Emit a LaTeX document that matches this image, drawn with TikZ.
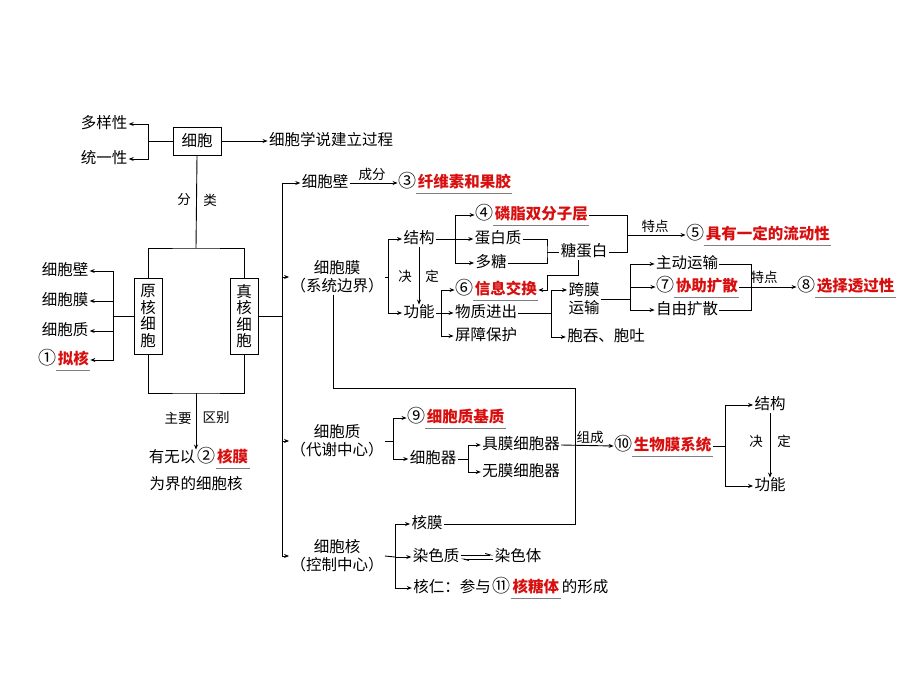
\documentclass[tikz,border=0pt]{standalone}
\usepackage{fontspec}
\newfontfamily\cjk{Noto Sans CJK SC}
\usetikzlibrary{arrows.meta,positioning}
\definecolor{keyred}{RGB}{215,15,15}

\begin{document}
\begin{tikzpicture}[x=1pt,y=-1pt,>={Stealth[length=5pt,width=4pt]},line width=0.9pt,
    every node/.style={font=\cjk\fontsize{15.5}{16}\selectfont,inner sep=1pt},
    text node/.style={text height=11.5pt,text depth=2.5pt},
    num node/.style={text node,font=\cjk\fontsize{18}{18}\selectfont,inner sep=0pt},
    two node/.style={align=center,font=\cjk\fontsize{15.5}{18}\selectfont},
    box node/.style={draw,minimum width=48pt,minimum height=28pt},
    tall node/.style={draw,align=center,minimum width=28pt,minimum height=76pt,font=\cjk\fontsize{15.5}{16.5}\selectfont},
    red node/.style={text node,text=keyred,font=\cjk\bfseries\fontsize{15.5}{16}\selectfont},
    small node/.style={font=\cjk\fontsize{13.5}{14}\selectfont}]
\useasboundingbox (0,0) rectangle (920,690);

% cell and its two properties
\node[box node] (cell) at (197,141) {细胞};
\node[text node] (diverse) at (104,124) {多样性};
\node[text node] (unity) at (104,159) {统一性};
\node[text node] (theory) at (331,141) {细胞学说建立过程};
\node[small node] (cls1) at (184,200) {分};
\node[small node] (cls2) at (210,200) {类};
\node[tall node] (pro) at (148,316) {原\\核\\细\\胞};
\node[tall node] (euk) at (244,316) {真\\核\\细\\胞};

% prokaryotic cell
\node[text node] (pwall) at (65,271) {细胞壁};
\node[text node] (pmem) at (65,301) {细胞膜};
\node[text node] (pcyto) at (65,331) {细胞质};
\node[num node] (c1) at (47,360) {①};
\node[red node,right=0pt of c1] (a1) {拟核};

% main difference
\node[small node] (main1) at (178,418) {主要};
\node[small node] (main2) at (216,418) {区别};
\node[text node] (k1) at (172,458) {有无以};
\node[num node,right=0pt of k1] (c2) {②};
\node[red node,right=0pt of c2] (a2) {核膜};
\node[text node] (k2) at (196,485) {为界的细胞核};

% eukaryotic cell: wall and membrane
\node[text node] (ewall) at (325,183) {细胞壁};
\node[small node] (ing) at (372,174) {成分};
\node[num node] (c3) at (407,183) {③};
\node[red node,right=0pt of c3] (a3) {纤维素和果胶};
\node[two node] (emem) at (337,277) {细胞膜\\（系统边界）};
\node[text node] (struct) at (419,239) {结构};
\node[text node] (func) at (419,313) {功能};
\node[small node] (dec1) at (405,276) {决};
\node[small node] (dec2) at (432,276) {定};
\node[num node] (c4) at (484,215) {④};
\node[red node,right=0pt of c4] (a4) {磷脂双分子层};
\node[text node] (prot) at (498,239) {蛋白质};
\node[text node] (sugar) at (491,263) {多糖};
\node[text node] (glyco) at (584,252) {糖蛋白};
\node[small node] (feat1) at (655,226) {特点};
\node[num node] (c5) at (695,235) {⑤};
\node[red node,right=0pt of c5] (a5) {具有一定的流动性};
\node[num node] (c6) at (464,290) {⑥};
\node[red node,right=0pt of c6] (a6) {信息交换};
\node[text node] (inout) at (486,313) {物质进出};
\node[text node] (barrier) at (486,336) {屏障保护};
\node[two node] (trans) at (584,299) {跨膜\\运输};
\node[text node] (endo) at (606,337) {胞吞、胞吐};
\node[text node] (active) at (687,264) {主动运输};
\node[num node] (c7) at (665,287) {⑦};
\node[red node,right=0pt of c7] (a7) {协助扩散};
\node[text node] (free) at (687,310) {自由扩散};
\node[small node] (feat2) at (764,277) {特点};
\node[num node] (c8) at (806,287) {⑧};
\node[red node,right=0pt of c8] (a8) {选择透过性};

% cytoplasm
\node[two node] (ecyto) at (337,441) {细胞质\\（代谢中心）};
\node[num node] (c9) at (416,418) {⑨};
\node[red node,right=0pt of c9] (a9) {细胞质基质};
\node[text node] (organ) at (433,459) {细胞器};
\node[text node] (withm) at (521,445) {具膜细胞器};
\node[text node] (nonm) at (521,472) {无膜细胞器};
\node[small node] (form) at (590,437) {组成};
\node[num node] (c10) at (623,446) {⑩};
\node[red node,right=0pt of c10] (a10) {生物膜系统};
\node[text node] (struct2) at (770,405) {结构};
\node[text node] (func2) at (770,486) {功能};
\node[small node] (dec3) at (756,441) {决};
\node[small node] (dec4) at (784,441) {定};

% nucleus
\node[two node] (enuc) at (337,556) {细胞核\\（控制中心）};
\node[text node] (nmem) at (427,524) {核膜};
\node[text node] (chrom) at (436,557) {染色质};
\node[text node] (chromo) at (518,557) {染色体};
\node[text node] (nucleo) at (452,588) {核仁：参与};
\node[num node,right=0pt of nucleo] (c11) {⑪};
\node[red node,right=0pt of c11] (a11) {核糖体};
\node[text node,right=0pt of a11] (rest) {的形成};

% junctions
\coordinate (jcell) at (148,141);
\coordinate (split) at (196,248);
\coordinate (jpro) at (113,316);
\coordinate (diff) at (196,393);
\coordinate (jeuk) at (282,316);
\coordinate (jmem) at (388,277);
\coordinate (jstruct) at (455,239);
\coordinate (jglyco) at (547,252);
\coordinate (jfluid) at (627,235);
\coordinate (jsignal) at (547,275);
\coordinate (jfunc) at (441,313);
\coordinate (jinout) at (551,313);
\coordinate (jtrans) at (630,299);
\coordinate (jsel) at (751,287);
\coordinate (jloop) at (575,388);
\coordinate (jcyto) at (393,441);
\coordinate (jorgan) at (468,459);
\coordinate (jbio) at (725,446);
\coordinate (jnuc) at (395,557);

\draw (cell.west) -- (jcell);
\draw[->] (jcell) |- (diverse.east);
\draw[->] (jcell) |- (unity.east);
\draw[->] (cell.east) -- (theory.west);
\draw (cell.south) -- (split);
\draw (pro.north) |- (split) -| (euk.north);

\draw (pro.west) -- (jpro);
\draw[->] (jpro) |- (pwall.east);
\draw[->] (jpro) |- (pmem.east);
\draw[->] (jpro) |- (pcyto.east);
\draw[->] (jpro) |- (a1.east);
\draw (pro.south) |- (diff) -| (euk.south);
\draw[->] (diff) -- (diff |- k1.north);

\draw (euk.east) -- (jeuk);
\draw[->] (jeuk) |- (ewall.west);
\draw[->] (jeuk) |- (emem.west);
\draw[->] (jeuk) |- (ecyto.west);
\draw[->] (jeuk) |- (enuc.west);
\draw[->] (ewall.east) -- (c3.west);

\draw (emem.east) -- (jmem);
\draw[->] (jmem) |- (struct.west);
\draw[->] (jmem) |- (func.west);
\draw[->] (struct) -- (func);
\draw (struct.east) -- (jstruct);
\draw[->] (jstruct) |- (c4.west);
\draw[->] (jstruct) -- (prot.west);
\draw[->] (jstruct) |- (sugar.west);
\draw (prot.east) -| (jglyco) |- (sugar.east);
\draw (jglyco) -- (glyco.west);
\draw (a4.east) -| (jfluid) |- (glyco.east);
\draw[->] (jfluid) -- (c5.west);
\draw[->] ([xshift=-6pt]glyco.south) |- (jsignal) |- (a6.east);

\draw (func.east) -- (jfunc);
\draw[->] (jfunc) |- (c6.west);
\draw[->] (jfunc) -- (inout.west);
\draw[->] (jfunc) |- (barrier.west);
\draw (inout.east) -- (jinout);
\draw[->] (jinout) |- ([yshift=9pt]trans.west);
\draw[->] (jinout) |- (endo.west);
\draw (trans.east) -- (jtrans);
\draw[->] (jtrans) |- (active.west);
\draw[->] (jtrans) |- (c7.west);
\draw[->] (jtrans) |- (free.west);
\draw (active.east) -| (jsel) |- (free.east);
\draw[->] (a7.east) -- (c8.west);

\draw ([xshift=-4pt]emem.south) |- (jloop) |- (nmem.east);
\draw (ecyto.east) -- (jcyto);
\draw[->] (jcyto) |- (c9.west);
\draw[->] (jcyto) |- (organ.west);
\draw (organ.east) -- (jorgan);
\draw[->] (jorgan) |- (withm.west);
\draw[->] (jorgan) |- (nonm.west);
\draw[->] (withm.east) -- (c10.west);
\draw (a10.east) -- (jbio);
\draw[->] (jbio) |- (struct2.west);
\draw[->] (jbio) |- (func2.west);
\draw[->] (struct2) -- (func2);

\draw (enuc.east) -- (jnuc);
\draw[->] (jnuc) |- (nmem.west);
\draw[->] (jnuc) -- (chrom.west);
\draw[->] (jnuc) |- (nucleo.west);
\draw[-{Straight Barb[left,length=5pt,width=3pt]}] ([yshift=2pt]chrom.east) -- ([yshift=2pt]chromo.west);
\draw[-{Straight Barb[left,length=5pt,width=3pt]}] ([yshift=-2pt]chromo.west) -- ([yshift=-2pt]chrom.east);

% underlines of the answers
\foreach \a in {a1,a2,a3,a4,a5,a6,a7,a8,a9,a10,a11}
    \draw[gray,line width=0.7pt] ([yshift=-2pt]\a.south west) -- ([yshift=-2pt]\a.south east);
\end{tikzpicture}
\end{document}
